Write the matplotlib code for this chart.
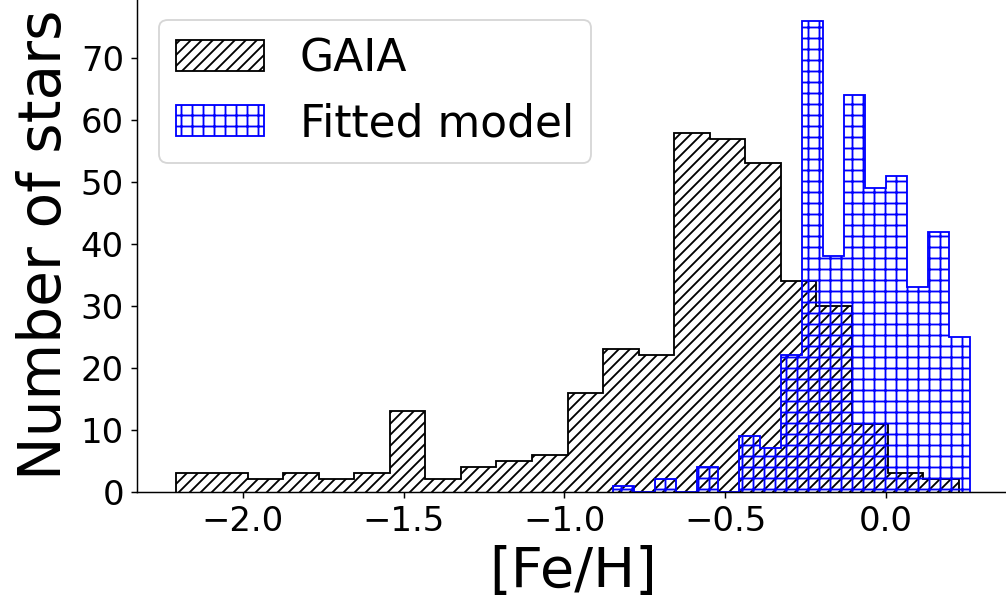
"""Metallicity distribution: GAIA stars against the fitted model."""

import numpy
from matplotlib import pyplot
from matplotlib.ticker import MultipleLocator

# GAIA counts per bin (22 equal bins between the two limits).
gaia_range = (-2.206, 0.225)
gaia_counts = [3, 3, 2, 3, 2, 3, 13, 2, 4, 5, 6, 16,
               23, 22, 58, 57, 53, 34, 30, 11, 3, 2]

# Fitted model counts per bin (17 equal bins between the two limits).
model_range = (-0.849, 0.261)
model_counts = [1, 0, 2, 0, 4, 0, 9, 7, 22, 76, 38,
                64, 49, 51, 33, 42, 25]

xlabel = '[Fe/H]'
ylabel = 'Number of stars'
labels = ['GAIA', 'Fitted model']


def bin_edges(lims, counts):
    return numpy.linspace(lims[0], lims[1], len(counts) + 1)


dpi = 132
pyplot.rc('font', family='DejaVu Sans')
pyplot.rc('hatch', linewidth=1.0)
fig = pyplot.figure(figsize=(1006 / dpi, 609 / dpi), dpi=dpi)
ax = fig.add_axes([0.1359, 0.1926, 0.868, 0.8115])

edges = bin_edges(gaia_range, gaia_counts)
ax.hist(edges[:-1], bins=edges, weights=gaia_counts, histtype='step',
        color='black', hatch='////', label=labels[0])

edges = bin_edges(model_range, model_counts)
ax.hist(edges[:-1], bins=edges, weights=model_counts, histtype='step',
        color='blue', hatch='++', label=labels[1])

ax.yaxis.set_major_locator(MultipleLocator(10))
ax.xaxis.set_major_locator(MultipleLocator(0.5))
ax.set_xlabel(xlabel, fontsize=30.5)
ax.set_ylabel(ylabel, fontsize=31.8)
ax.tick_params(labelsize=18.5)
ax.legend(loc='upper left', fontsize=24)

fig.savefig('out.png', dpi=dpi)
